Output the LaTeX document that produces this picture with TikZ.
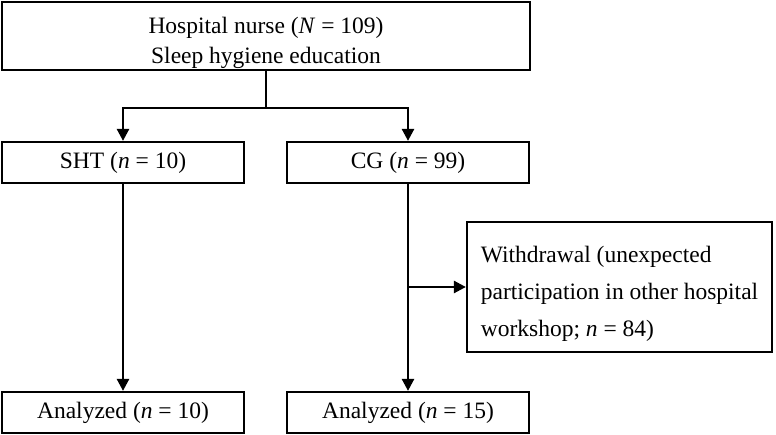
\documentclass[tikz,border=0pt]{standalone}
\usepackage{fontspec}
\setmainfont{Liberation Serif}
\usetikzlibrary{arrows.meta}
\begin{document}
\begin{tikzpicture}[x=1pt,y=-1pt,
  box/.style={draw,line width=2.2pt,inner sep=0pt,font=\fontsize{23.5}{30}\selectfont,align=center},
  conn/.style={line width=2.5pt},
  arr/.style={conn,-{Triangle[length=12pt,width=12pt]}}]
\useasboundingbox (0,0) rectangle (776,435);
\node[box,minimum width=528pt,minimum height=68pt] (top) at (266,36)
  {\rule{0pt}{30pt}Hospital nurse (\textit{N}~=~109)\\Sleep hygiene education};
\node[box,minimum width=242pt,minimum height=41pt] (sht) at (123,162.5) {SHT (\textit{n}~=~10)};
\node[box,minimum width=242pt,minimum height=41pt] (cg) at (408,162.5) {CG (\textit{n}~=~99)};
\node[box,minimum width=305pt,minimum height=130pt,align=left,font=\fontsize{23.5}{37}\selectfont] (wd) at (619.5,287)
  {\rule{0pt}{31pt}Withdrawal (unexpected\\participation in other hospital\\workshop; \textit{n}~=~84)};
\node[box,minimum width=242pt,minimum height=41pt] (a1) at (123,412.5) {Analyzed (\textit{n}~=~10)};
\node[box,minimum width=242pt,minimum height=41pt] (a2) at (408,412.5) {Analyzed (\textit{n}~=~15)};
\coordinate (j) at (266,108);
\draw[conn] (top.south) -- (j);
\draw[arr] (j) -| (sht.north);
\draw[arr] (j) -| (cg.north);
\draw[arr] (sht.south) -- (a1.north);
\draw[arr] (cg.south) -- (a2.north);
\draw[arr] (cg.south |- wd.west) -- (wd.west);
\end{tikzpicture}
\end{document}
